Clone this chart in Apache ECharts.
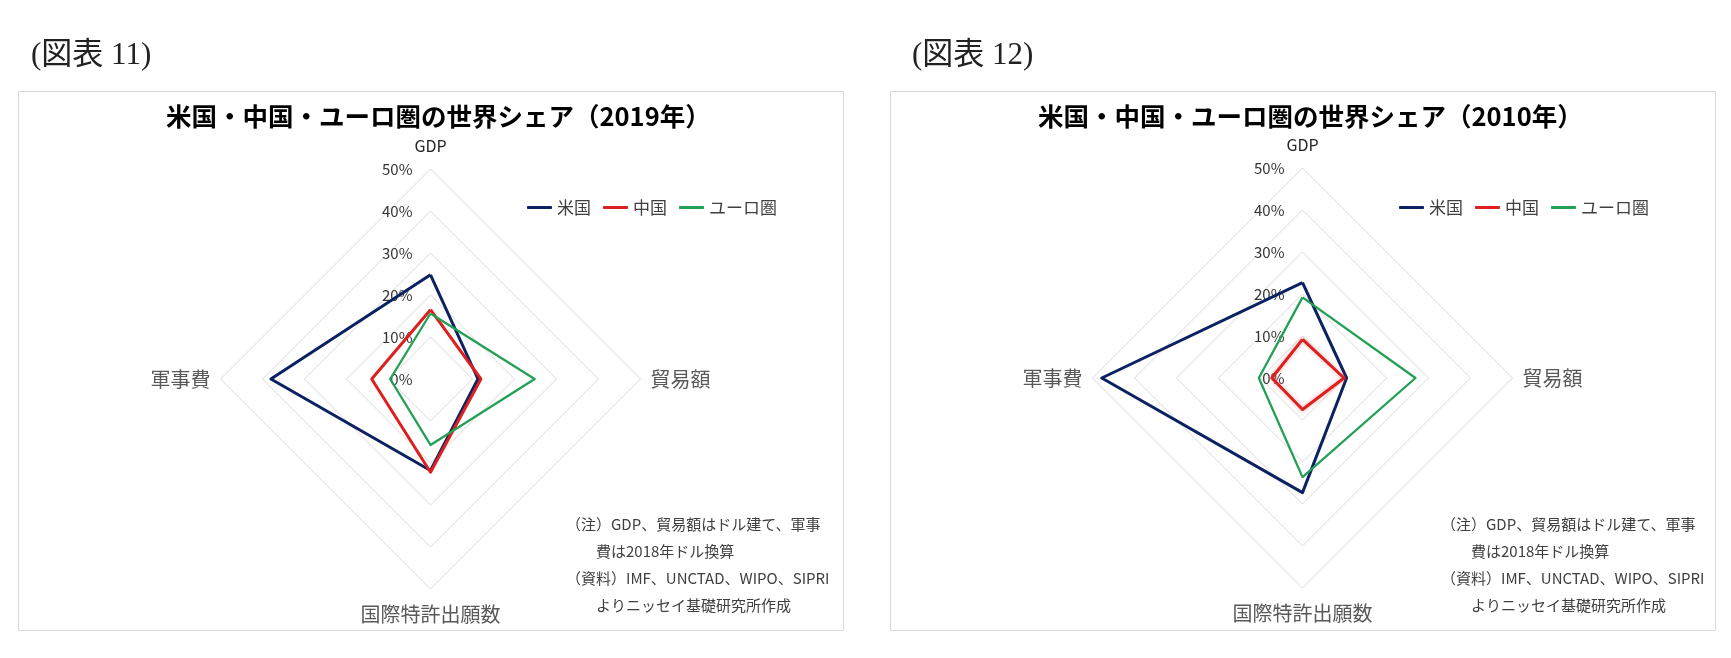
<!DOCTYPE html>
<html>
<head>
<meta charset="utf-8">
<script src="https://cdn.jsdelivr.net/npm/echarts@6/dist/echarts.min.js"></script>
<style>
html, body { margin: 0; padding: 0; background: #fff; }
#main { width: 1731px; height: 658px; }
</style>
</head>
<body>
<div id="main"></div>
<script>
// axes, counterclockwise from the top
var indicators = ['GDP', '軍事費', '国際特許出願数', '貿易額'];
var seriesNames = ['米国', '中国', 'ユーロ圏'];
var tickLabels = ['0%', '10%', '20%', '30%', '40%', '50%'];

// 2019 shares (%)
var us2019 = [24.8, 38.0, 21.8, 11.3];
var cn2019 = [16.5, 14.0, 22.2, 12.0];
var ez2019 = [15.6, 9.6, 15.7, 24.8];

// 2010 shares (%)
var us2010 = [22.7, 47.8, 27.3, 10.5];
var cn2010 = [9.2, 7.3, 7.5, 9.9];
var ez2010 = [19.2, 10.4, 23.6, 26.9];

var figLabels = ['(図表 11)', '(図表 12)'];
var chartTitles = ['米国・中国・ユーロ圏の世界シェア（2019年）', '米国・中国・ユーロ圏の世界シェア（2010年）'];
var notes = [
	'（注）GDP、貿易額はドル建て、軍事',
	'　　費は2018年ドル換算',
	'（資料）IMF、UNCTAD、WIPO、SIPRI',
	'　　よりニッセイ基礎研究所作成'
];

var colors = ['#0b2262', '#dd1f1f', '#23a055'];
var widths = [3, 3, 2.3];
var font = "'Noto Sans CJK JP', 'Noto Sans', sans-serif";

var panels = [
	{ dx: 0, cy: 379, data: [us2019, cn2019, ez2019], headX: 31, glow: false },
	{ dx: 872, cy: 378, data: [us2010, cn2010, ez2010], headX: 912, glow: true }
];

function buildRadar(p) {
	return {
		center: [430.5 + p.dx, p.cy],
		radius: 210,
		startAngle: 90,
		shape: 'polygon',
		splitNumber: 5,
		indicator: indicators.map(function(name, i) {
			var ind = { name: name, min: 0, max: 50 };
			if (i === 0) {
				ind.axisLabel = {
					show: true,
					margin: 18,
					fontSize: 15,
					color: '#333',
					fontFamily: font,
					formatter: function(v) {
						return tickLabels[Math.round(v / 10)];
					}
				};
			}
			return ind;
		}),
		nameGap: 10,
		axisName: {
			fontFamily: font,
			formatter: function(name) {
				if (name === 'GDP') return '{g|' + name + '}';
				if (name === '国際特許出願数') return '{b|' + name + '}';
				return '{n|' + name + '}';
			},
			rich: {
				g: { fontSize: 16, color: '#262626', fontFamily: font, padding: [0, 0, 5, 0] },
				b: { fontSize: 20, color: '#595959', fontFamily: font, padding: [5, 0, 0, 0] },
				n: { fontSize: 20, color: '#595959', fontFamily: font }
			}
		},
		axisLine: { show: false },
		axisTick: { show: false },
		axisLabel: { show: false },
		splitArea: { show: false },
		splitLine: { lineStyle: { color: '#d9d9d9', width: 1 } }
	};
}

function buildSeries(p, idx) {
	return {
		type: 'radar',
		radarIndex: idx,
		symbol: 'none',
		data: seriesNames.map(function(name, j) {
			var ls = { color: colors[j], width: widths[j] };
			if (p.glow && j === 1) {
				ls.shadowBlur = 4;
				ls.shadowColor = 'rgba(240,80,80,0.45)';
			}
			return {
				name: name,
				value: p.data[j],
				lineStyle: ls,
				itemStyle: { color: colors[j] }
			};
		})
	};
}

function buildGraphic(p, i) {
	var g = [];
	g.push({
		type: 'rect',
		shape: { x: 18.5 + p.dx, y: 91.5, width: 825, height: 539 },
		style: { fill: 'none', stroke: '#d9d9d9', lineWidth: 1 },
		silent: true
	});
	g.push({
		type: 'text',
		x: p.headX,
		y: 56,
		style: {
			text: figLabels[i],
			fontSize: 31,
			fontFamily: "'Liberation Serif', 'Noto Sans CJK JP', serif",
			fill: '#222',
			textVerticalAlign: 'middle'
		}
	});
	notes.forEach(function(line, k) {
		g.push({
			type: 'text',
			x: 566 + p.dx + (p.dx ? 3 : 0),
			y: 524 + k * 27,
			style: {
				text: line,
				fontSize: 15,
				fontFamily: font,
				fill: '#404040',
				textVerticalAlign: 'middle'
			}
		});
	});
	return g;
}

var chart = echarts.init(document.getElementById('main'));

var option = {
	animation: false,
	color: colors,
	title: panels.map(function(p, i) {
		return {
			text: chartTitles[i],
			left: 161 + p.dx,
			top: 99,
			textStyle: { fontSize: 25.5, fontWeight: 'bold', color: '#000', fontFamily: font }
		};
	}),
	legend: panels.map(function(p) {
		return {
			data: seriesNames,
			left: 522 + p.dx,
			top: 194,
			icon: 'roundRect',
			itemWidth: 25,
			itemHeight: 3,
			itemGap: 12,
			textStyle: { fontSize: 17, color: '#404040', fontFamily: font }
		};
	}),
	radar: panels.map(buildRadar),
	series: panels.map(buildSeries),
	graphic: panels.map(buildGraphic).reduce(function(a, b) { return a.concat(b); }, [])
};

chart.setOption(option);
</script>
</body>
</html>
